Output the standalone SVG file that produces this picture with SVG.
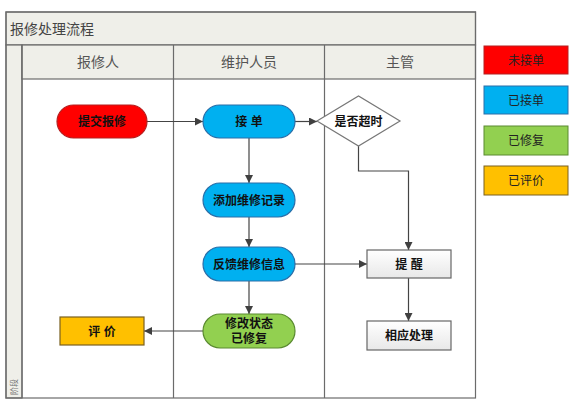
<svg xmlns="http://www.w3.org/2000/svg" width="576" height="411" viewBox="0 0 576 411">
<style>
.lane{fill:none;stroke:#6b6b6b;stroke-width:1.2}
.band{fill:#efefe9;stroke:#6b6b6b;stroke-width:1.2}
.hdr{font-family:"Liberation Serif","Noto Sans CJK SC",serif;font-size:14px;fill:#555;text-anchor:middle}
.lbl{font-family:"Liberation Sans","Noto Sans CJK SC",sans-serif;font-size:12px;font-weight:bold;fill:#111;text-anchor:middle}
.leg{font-family:"Liberation Sans","Noto Sans CJK SC",sans-serif;font-size:12px;fill:#222;text-anchor:middle}
.ln{fill:none;stroke:#444;stroke-width:1.2}
</style>
<defs>
<marker id="ah" viewBox="0 0 10 10" refX="10" refY="5" markerWidth="8" markerHeight="8" markerUnits="userSpaceOnUse" orient="auto">
<path d="M0,0 L10,5 L0,10 Z" fill="#404040"/>
</marker>
<linearGradient id="gr" x1="0" y1="0" x2="0" y2="1">
<stop offset="0" stop-color="#ffffff"/>
<stop offset="1" stop-color="#e8e8e8"/>
</linearGradient>
</defs>
<rect x="0" y="0" width="576" height="411" fill="#fff"/>
<g id="frame">
<rect class="band" x="6" y="12" width="469.5" height="33"/>
<rect class="band" x="6" y="45" width="16" height="353"/>
<rect class="band" x="22" y="45" width="453.5" height="34"/>
<rect class="lane" x="6" y="12" width="469.5" height="386"/>
<line class="lane" x1="22" y1="45" x2="22" y2="398"/>
<line class="lane" x1="173.5" y1="45" x2="173.5" y2="398"/>
<line class="lane" x1="324.5" y1="45" x2="324.5" y2="398"/>
<text x="10" y="34" font-family="'Liberation Serif','Noto Sans CJK SC',serif" font-size="14" fill="#444">报修处理流程</text>
<text class="hdr" x="98" y="67">报修人</text>
<text class="hdr" x="249" y="67">维护人员</text>
<text class="hdr" x="400" y="67">主管</text>
<text transform="translate(17,395) rotate(-90)" font-family="'Liberation Serif','Noto Sans CJK SC',serif" font-size="8" fill="#777">阶段</text>
</g>
<g id="connectors">
<line class="ln" x1="147" y1="121.5" x2="203" y2="121.5" marker-end="url(#ah)"/>
<line class="ln" x1="295" y1="121.5" x2="317" y2="121.5" marker-end="url(#ah)"/>
<line class="ln" x1="249" y1="138" x2="249" y2="183" marker-end="url(#ah)"/>
<line class="ln" x1="249" y1="217" x2="249" y2="247" marker-end="url(#ah)"/>
<line class="ln" x1="249" y1="281" x2="249" y2="314" marker-end="url(#ah)"/>
<line class="ln" x1="203" y1="331" x2="144" y2="331" marker-end="url(#ah)"/>
<line class="ln" x1="295" y1="264" x2="367" y2="264" marker-end="url(#ah)"/>
<polyline class="ln" points="358.5,146 358.5,171 408.5,171 408.5,250" marker-end="url(#ah)"/>
<line class="ln" x1="408.5" y1="278" x2="408.5" y2="321" marker-end="url(#ah)"/>
</g>
<g id="submit">
<rect x="57" y="105" width="90" height="33" rx="16.5" fill="#ff0000" stroke="#b52020" stroke-width="1.2"/>
<text class="lbl" x="102" y="126">提交报修</text>
</g>
<g id="accept">
<rect x="203" y="105" width="92" height="33" rx="16.5" fill="#00b0f0" stroke="#2a6ea8" stroke-width="1.2"/>
<text class="lbl" x="249" y="126">接 单</text>
</g>
<g id="addrecord">
<rect x="203" y="183" width="92" height="34" rx="17" fill="#00b0f0" stroke="#2a6ea8" stroke-width="1.2"/>
<text class="lbl" x="249" y="204.5">添加维修记录</text>
</g>
<g id="feedback">
<rect x="203" y="247" width="92" height="34" rx="17" fill="#00b0f0" stroke="#2a6ea8" stroke-width="1.2"/>
<text class="lbl" x="249" y="268.5">反馈维修信息</text>
</g>
<g id="repaired">
<rect x="203" y="314" width="92" height="34" rx="17" fill="#92d050" stroke="#5a8a30" stroke-width="1.2"/>
<text class="lbl" x="249" y="328">修改状态</text>
<text class="lbl" x="249" y="343">已修复</text>
</g>
<g id="evaluate">
<rect x="60" y="317" width="84" height="28" fill="#ffc000" stroke="#7a6020" stroke-width="1.2"/>
<text class="lbl" x="102" y="335.5">评 价</text>
</g>
<g id="timeout">
<polygon points="317,121 358.5,96 400,121 358.5,146" fill="#fff" stroke="#777" stroke-width="1.2"/>
<text class="lbl" x="358.5" y="125.5">是否超时</text>
</g>
<g id="remind">
<rect x="367" y="250" width="84" height="28" fill="url(#gr)" stroke="#666" stroke-width="1.2"/>
<text class="lbl" x="409" y="268.5">提 醒</text>
</g>
<g id="handle">
<rect x="367" y="321" width="84" height="29" fill="url(#gr)" stroke="#666" stroke-width="1.2"/>
<text class="lbl" x="409" y="340">相应处理</text>
</g>
<g id="legend-unaccepted">
<rect x="484" y="46" width="84" height="28" fill="#ff0000" stroke="#b52020" stroke-width="1"/>
<text class="leg" x="526" y="64.5">未接单</text>
</g>
<g id="legend-accepted">
<rect x="484" y="86" width="84" height="28" fill="#00b0f0" stroke="#2a6ea8" stroke-width="1"/>
<text class="leg" x="526" y="104.5">已接单</text>
</g>
<g id="legend-repaired">
<rect x="484" y="126" width="84" height="29" fill="#92d050" stroke="#5a8a30" stroke-width="1"/>
<text class="leg" x="526" y="145">已修复</text>
</g>
<g id="legend-evaluated">
<rect x="484" y="166" width="84" height="29" fill="#ffc000" stroke="#7a6020" stroke-width="1"/>
<text class="leg" x="526" y="185">已评价</text>
</g>
</svg>
